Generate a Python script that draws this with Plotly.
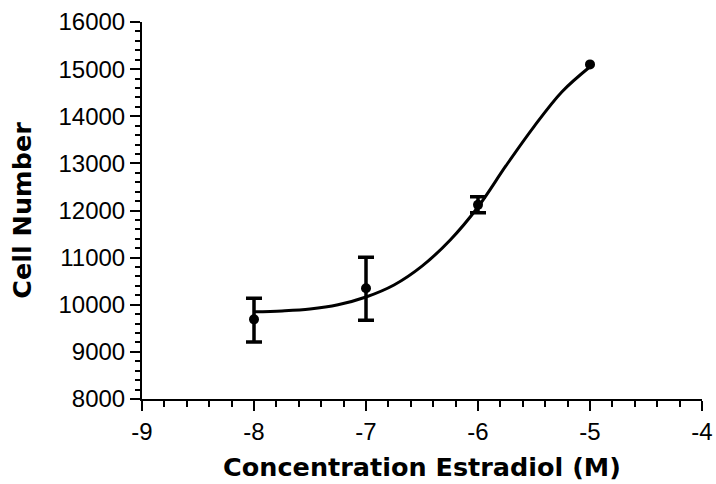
import plotly.graph_objects as go

# Measured points (mean ± error); the last point has no error bar
conc_log = [-8, -7, -6, -5]
cell_mean = [9690, 10350, 12120, 15100]
err_plus = [450, 660, 170, None]
err_minus = [480, 680, 170, None]

# Fitted curve, values
curve_x = [-8.0, -7.75, -7.5, -7.25, -7.0, -6.75, -6.5, -6.25, -6.0, -5.75, -5.5, -5.25, -5.0]
curve_y = [9850, 9870, 9910, 10000, 10165, 10420, 10820, 11370, 12075, 12950, 13780, 14520, 15050]

x_tick_vals = [-9, -8, -7, -6, -5, -4]
x_tick_labels = ["-9", "-8", "-7", "-6", "-5", "-4"]
y_tick_vals = [8000, 9000, 10000, 11000, 12000, 13000, 14000, 15000, 16000]
y_tick_labels = ["8000", "9000", "10000", "11000", "12000", "13000", "14000", "15000", "16000"]

FONT = "Liberation Sans, Arial, Helvetica, sans-serif"
TITLE_FONT = "DejaVu Sans, Liberation Sans, Arial, sans-serif"

# only points that have an error bar
has_err = [i for i, e in enumerate(err_plus) if e is not None]

fig = go.Figure()
fig.add_trace(go.Scatter(
    x=curve_x, y=curve_y, mode="lines",
    line=dict(color="black", width=3, shape="spline", smoothing=1.0),
    hoverinfo="skip", showlegend=False,
))
fig.add_trace(go.Scatter(
    x=[conc_log[i] for i in has_err], y=[cell_mean[i] for i in has_err], mode="markers",
    marker=dict(color="black", size=1, opacity=0),
    error_y=dict(type="data", symmetric=False,
                 array=[err_plus[i] for i in has_err],
                 arrayminus=[err_minus[i] for i in has_err],
                 color="black", thickness=3.5, width=8),
    hoverinfo="skip", showlegend=False,
))
fig.add_trace(go.Scatter(
    x=conc_log, y=cell_mean, mode="markers",
    marker=dict(color="black", size=10),
    showlegend=False,
))

fig.update_layout(
    width=716, height=484,
    margin=dict(l=142, r=14, t=22, b=85),
    paper_bgcolor="white", plot_bgcolor="white",
    font=dict(family=FONT, color="black", size=24),
    showlegend=False,
)
fig.update_xaxes(
    range=[-9, -4], tickmode="array", tickvals=x_tick_vals, ticktext=x_tick_labels,
    automargin=False,
    showgrid=False, zeroline=False, showline=True, linecolor="black", linewidth=2,
    ticks="outside", ticklen=10, tickwidth=2, tickcolor="black",
    tickfont=dict(size=24, family=FONT, color="black"),
    minor=dict(ticks="outside", ticklen=6, tickwidth=2, tickcolor="black", dtick=0.2, tick0=-9, showgrid=False),
    title=dict(text="<b>Concentration Estradiol (M)</b>", font=dict(size=25.5, family=TITLE_FONT, color="black"), standoff=14),
)
fig.update_yaxes(
    range=[8000, 16000], tickmode="array", tickvals=y_tick_vals, ticktext=y_tick_labels,
    automargin=False,
    showgrid=False, zeroline=False, showline=True, linecolor="black", linewidth=2,
    ticks="outside", ticklen=10, tickwidth=2, tickcolor="black",
    tickfont=dict(size=24, family=FONT, color="black"),
    minor=dict(ticks="outside", ticklen=5, tickwidth=2, tickcolor="black", dtick=200, tick0=8000, showgrid=False),
    title=dict(text="<b>Cell Number</b>", font=dict(size=25.5, family=TITLE_FONT, color="black"), standoff=20),
)

fig.write_html(
    "out.html",
    config={"displayModeBar": False},
    post_script="document.body.style.margin='0px';document.body.style.overflow='hidden';",
)
